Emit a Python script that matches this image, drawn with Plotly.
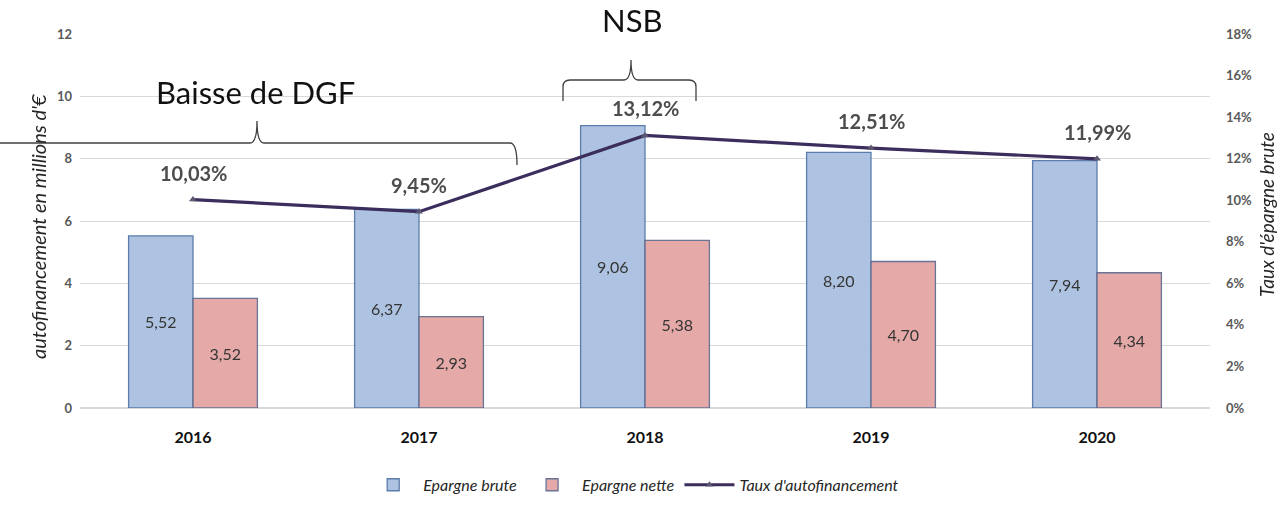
import plotly.graph_objects as go

years = ["2016", "2017", "2018", "2019", "2020"]
epargne_brute = [5.52, 6.37, 9.06, 8.20, 7.94]
epargne_nette = [3.52, 2.93, 5.38, 4.70, 4.34]
taux_autofin = [10.03, 9.45, 13.12, 12.51, 11.99]

W, H = 1283, 506
L, R, T, B = 80, 73, 34, 98
PW, PH = W - L - R, H - T - B


def px(x):
    return (x - L) / PW


def py(y):
    return (H - B - y) / PH


def path(points):
    s = ""
    for cmd, pts in points:
        s += cmd + " " + " ".join(f"{px(x):.5f},{py(y):.5f}" for x, y in pts) + " "
    return s.strip()


fig = go.Figure()

fig.add_trace(go.Bar(
    x=years, y=epargne_brute, name="Epargne brute",
    marker=dict(color="#A7BFDF", line=dict(color="#4F73A6", width=1.3)),
    opacity=0.93,
    texttemplate="%{y:.2f}", textposition="inside", insidetextanchor="middle",
    textfont=dict(family="Lato", size=16, color="#262626"),
    textangle=0,
))
fig.add_trace(go.Bar(
    x=years, y=epargne_nette, name="Epargne nette",
    marker=dict(color="#E3A3A2", line=dict(color="#5E6A8E", width=1.3)),
    opacity=0.93,
    texttemplate="%{y:.2f}", textposition="inside", insidetextanchor="middle",
    textfont=dict(family="Lato", size=16, color="#262626"),
    textangle=0,
))
fig.add_trace(go.Scatter(
    x=years, y=taux_autofin, name="Taux d'autofinancement", yaxis="y2",
    mode="lines+markers",
    line=dict(color="#3B2D5C", width=3.2),
    marker=dict(symbol="triangle-up", size=7, color="#5D5670"),
))

for i, v in enumerate(taux_autofin):
    fig.add_annotation(
        x=i, y=v, yref="y2", xref="x",
        text=f"{v:.2f}%".replace(".", ","),
        showarrow=False, yshift=27, xanchor="center", yanchor="middle",
        font=dict(family="Lato", size=20, color="#4D4D4D", weight="bold"),
    )

fig.add_annotation(x=px(255), y=py(92), xref="paper", yref="paper",
                   xanchor="center", yanchor="middle",
                   text="Baisse de DGF", showarrow=False,
                   font=dict(family="Lato", size=31, color="#111111"))
fig.add_annotation(x=px(632), y=py(20), xref="paper", yref="paper",
                   xanchor="center", yanchor="middle",
                   text="NSB", showarrow=False,
                   font=dict(family="Lato", size=31, color="#111111"))

brace1 = path([
    ("M", [(0, 143)]),
    ("L", [(250, 143)]),
    ("Q", [(257, 143), (257, 121)]),
    ("Q", [(257, 143), (264, 143)]),
    ("L", [(510, 143)]),
    ("Q", [(517, 143), (517, 165)]),
])
brace2 = path([
    ("M", [(563, 101)]),
    ("L", [(563, 87)]),
    ("Q", [(563, 80), (570, 80)]),
    ("L", [(624, 80)]),
    ("Q", [(631, 80), (631, 60)]),
    ("Q", [(631, 80), (638, 80)]),
    ("L", [(689, 80)]),
    ("Q", [(696, 80), (696, 87)]),
    ("L", [(696, 101)]),
])
for p in (brace1, brace2):
    fig.add_shape(type="path", path=p, xref="paper", yref="paper",
                  line=dict(color="#404040", width=1.3))

fig.add_annotation(x=px(38), y=py(227), xref="paper", yref="paper",
                   xanchor="center", yanchor="middle",
                   text="autofinancement en millions d'€", textangle=-90,
                   showarrow=False,
                   font=dict(family="Lato", size=20, color="#262626", style="italic"))
fig.add_annotation(x=px(1266), y=py(215), xref="paper", yref="paper",
                   xanchor="center", yanchor="middle",
                   text="Taux d'épargne brute", textangle=-90,
                   showarrow=False,
                   font=dict(family="Lato", size=19, color="#262626", style="italic"))

fig.update_layout(
    width=W, height=H,
    margin=dict(l=L, r=R, t=T, b=B, autoexpand=False),
    paper_bgcolor="white", plot_bgcolor="white",
    separators=", ",
    barmode="group", bargap=0.43, bargroupgap=0,
    showlegend=True,
    legend=dict(orientation="h", x=0.49, xanchor="center", y=-0.16, yanchor="top",
                font=dict(family="Lato", size=16, color="#262626", style="italic"),
                itemwidth=50, tracegroupgap=0),
    xaxis=dict(type="category", range=[-0.5, len(years) - 0.5],
               showgrid=False, showline=False, automargin=False,
               ticklabelstandoff=18,
               tickfont=dict(family="Lato", size=16, color="#111111", weight="bold")),
    yaxis=dict(range=[0, 12], dtick=2, showgrid=True, gridcolor="#D9D9D9",
               zeroline=True, zerolinecolor="#D9D9D9", showline=False, automargin=False,
               ticklabelstandoff=7,
               tickfont=dict(family="Lato", size=13, color="#595959", weight="bold")),
    yaxis2=dict(range=[0, 18], dtick=2, overlaying="y", side="right", automargin=False,
                showgrid=False, zeroline=False, showline=False,
                ticksuffix="%", ticklabelstandoff=15,
                tickfont=dict(family="Lato", size=13, color="#595959", weight="bold")),
)

fig.write_html("out.html", post_script="document.body.style.margin='0';",
               config={"displayModeBar": False})
